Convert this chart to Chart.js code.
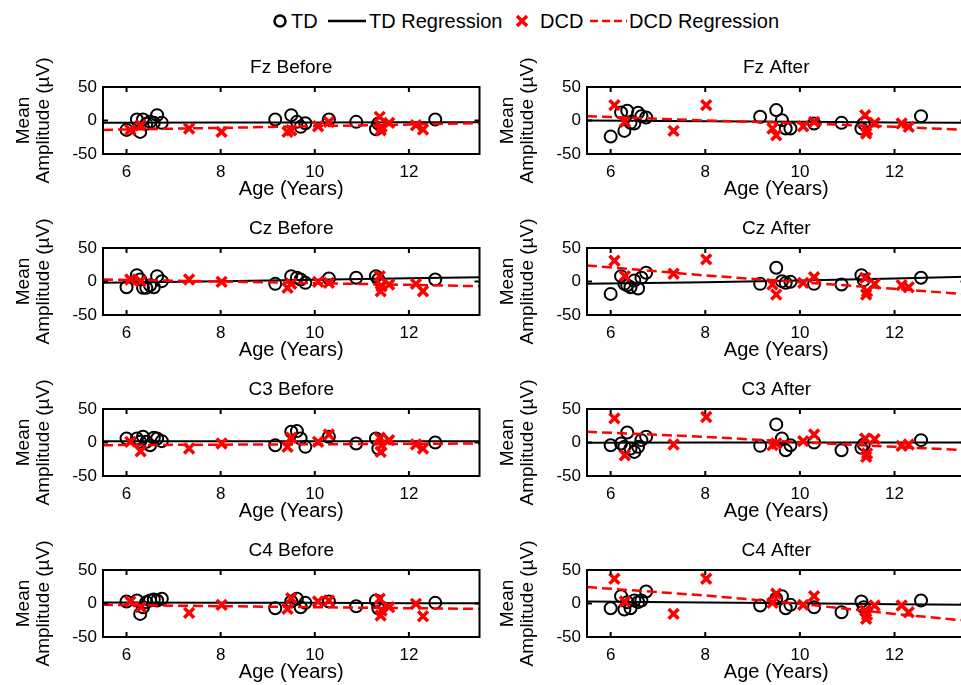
<!DOCTYPE html>
<html lang="en">
<head>
<meta charset="UTF-8">
<title>Mean Amplitude by Age - TD vs DCD</title>
<script src="https://cdn.jsdelivr.net/npm/chart.js@4"></script>
<style>
    body {
        margin: 0;
        background: #fff;
        width: 961px;
        height: 685px;
        overflow: hidden;
        position: relative;
        font-family: 'Liberation Sans', Arial, sans-serif;
    }
    canvas { position: absolute; }
    #legendIcons { position: absolute; left: 0; top: 0; }
    .lg {
        position: absolute;
        top: 9px;
        font-size: 20px;
        line-height: 24px;
        color: #000;
        white-space: nowrap;
    }
</style>
</head>
<body>
<svg id="legendIcons" width="961" height="42">
    <circle cx="280" cy="21" r="5.5" fill="none" stroke="#000" stroke-width="2.5"/>
    <line x1="328" y1="21" x2="366" y2="21" stroke="#000" stroke-width="2.5"/>
    <path d="M517 16 L527 26 M527 16 L517 26" stroke="#f00" stroke-width="3.5"/>
    <line x1="590" y1="21" x2="627" y2="21" stroke="#f00" stroke-width="2.5" stroke-dasharray="8 4"/>
</svg>
<span class="lg" style="left:291px">TD</span>
<span class="lg" style="left:369px">TD Regression</span>
<span class="lg" style="left:540px">DCD</span>
<span class="lg" style="left:629px">DCD Regression</span>

<script>
// ages of the subjects (years)
const tdAge  = [6.0, 6.22, 6.29, 6.35, 6.42, 6.5, 6.58, 6.65, 6.75, 9.16, 9.5, 9.62, 9.7, 9.8, 10.3, 10.88, 11.3, 11.35, 12.56];
const dcdAge = [6.08, 6.3, 7.33, 8.02, 9.42, 9.5, 10.07, 10.3, 11.38, 11.4, 11.42, 11.58, 12.15, 12.3];
// ages where the regression curves are sampled
const fitAge = [5.5, 8, 10, 12, 13.5];

const xTicks = [6, 8, 10, 12];
const yTicks = [-50, 0, 50];

// mean amplitude (uV) per electrode / session
const fzBeforeTD  = [-14, 1.5, -17, 1.5, -5, -2, -3.5, 8, -3.5, 1.5, 8, -2, -9.5, -4, 1.5, -2, -13, -4.5, 1.5];
const fzBeforeDCD = [-14, -7, -12, -17, -17, -14.5, -8.5, -2, 5.5, -14.5, -9.5, -3.5, -7, -13.5];
const fzAfterTD   = [-24, 12, -15.5, 14.5, -3.5, -4.5, 11.5, 6.5, 4.5, 5.5, 15.5, 0.5, -12, -12, -4.5, -3.5, -12, -4.5, 6.5];
const fzAfterDCD  = [23, -2, -15.5, 23, -12, -22, -8.5, -2, 8, -19.5, -14.5, -3.5, -4.5, -9.5];
const czBeforeTD  = [-8.5, 9.5, 3, -9.5, -9.5, -5.5, -8.5, 8, 0.5, -3.5, 8, 5.5, 3, -2, 4.5, 5.5, 8, 3, 3];
const czBeforeDCD = [3, 0.5, 3, -0.5, -9.5, -3.5, -0.5, -2, 8, -14.5, -7, -4.5, -3.5, -14.5];
const czAfterTD   = [-18.5, 8, -3.5, -5.5, -8.5, 1.5, -10.5, 5.5, 13, -3.5, 20.5, 0.5, -2, -0.5, -3.5, -4.5, 9.5, 2, 5.5];
const czAfterDCD  = [31, 8, 11.5, 33, -4.5, -19.5, -2, 6.5, 5.5, -19.5, -14.5, -3.5, -5.5, -8.5];
const c3BeforeTD  = [6, 6, 1, 8.5, 1, -4, 7, 6, 2, -4, 16, 17, 6, -6.5, 8.5, -1.5, 6, -9, 0];
const c3BeforeDCD = [1, -13, -9, -1.5, -6.5, 7, 1, 12, 7, -14, -4, 3.5, -3, -9];
const c3AfterTD   = [-4, -1.5, -6.5, 15, -9, -14, -6.5, 3.5, 8.5, -5, 27, 6, -11.5, -4, 0, -11.5, -8, -3, 3.5];
const c3AfterDCD  = [36, -19, -3, 38, -4, -1.5, 2, 12, 6, -21.5, -16.5, 5, -5, -3];
const c4BeforeTD  = [3, 4.5, -15.5, -5.5, 2, 4.5, 6, 4.5, 7, -7, 3, 7, -5.5, 1, 3, -4, 4.5, -7, 1];
const c4BeforeDCD = [3, -5.5, -14, -2, -8, 8, 3, 4.5, 7, -18, -10.5, -5.5, -0.5, -19];
const c4AfterTD   = [-7, 11, -9, 2, -7, 4.5, 2, 4.5, 18, -3, 7, 11, -7, -2, -5.5, -13, 3, -5.5, 4.5];
const c4AfterDCD  = [37, 3, -15.5, 37, 1, 14.5, -2, 11, -10.5, -23, -17, -3, -3, -13];

// regression curves sampled at fitAge
const fzBeforeTdFit  = [-3.5, -3, -3, -2.5, -2.5];
const fzBeforeDcdFit = [-14, -11, -8.5, -6, -4];
const fzAfterTdFit   = [0, -1, -2, -3, -3.5];
const fzAfterDcdFit  = [6.5, 0, -4, -9.5, -14];
const czBeforeTdFit  = [-2, 0.5, 2.5, 5, 6.5];
const czBeforeDcdFit = [3, 0, -2.5, -5, -7];
const czAfterTdFit   = [-3.5, -1, 1.5, 4.5, 7];
const czAfterDcdFit  = [24, 9, -1, -11, -19];
const c3BeforeTdFit  = [2, 2, 2, 2, 2];
const c3BeforeDcdFit = [-4, -3.2, -2.7, -2, -1.5];
const c3AfterTdFit   = [-0.5, 0, 0, 0, 0];
const c3AfterDcdFit  = [16, 8.5, 0.5, -6.5, -11.5];
const c4BeforeTdFit  = [1.5, 1, 1, 0.5, 0.5];
const c4BeforeDcdFit = [-2, -4, -5.5, -7, -8];
const c4AfterTdFit   = [3, 1.5, 0.5, -1, -2];
const c4AfterDcdFit  = [24.5, 12, -0.5, -15.5, -25.5];

const panels = [
    { title: 'Fz Before', td: fzBeforeTD, dcd: fzBeforeDCD, tdFit: fzBeforeTdFit, dcdFit: fzBeforeDcdFit },
    { title: 'Fz After',  td: fzAfterTD,  dcd: fzAfterDCD,  tdFit: fzAfterTdFit,  dcdFit: fzAfterDcdFit },
    { title: 'Cz Before', td: czBeforeTD, dcd: czBeforeDCD, tdFit: czBeforeTdFit, dcdFit: czBeforeDcdFit },
    { title: 'Cz After',  td: czAfterTD,  dcd: czAfterDCD,  tdFit: czAfterTdFit,  dcdFit: czAfterDcdFit },
    { title: 'C3 Before', td: c3BeforeTD, dcd: c3BeforeDCD, tdFit: c3BeforeTdFit, dcdFit: c3BeforeDcdFit },
    { title: 'C3 After',  td: c3AfterTD,  dcd: c3AfterDCD,  tdFit: c3AfterTdFit,  dcdFit: c3AfterDcdFit },
    { title: 'C4 Before', td: c4BeforeTD, dcd: c4BeforeDCD, tdFit: c4BeforeTdFit, dcdFit: c4BeforeDcdFit },
    { title: 'C4 After',  td: c4AfterTD,  dcd: c4AfterDCD,  tdFit: c4AfterTdFit,  dcdFit: c4AfterDcdFit }
];

Chart.defaults.font.family = "'Liberation Sans', Arial, sans-serif";
Chart.defaults.color = '#000';

// box around the plot with inward tick marks (matlab style)
const framePlugin = {
    id: 'frame',
    afterDraw(chart) {
        const { ctx, chartArea: a, scales: { x, y } } = chart;
        ctx.save();
        ctx.strokeStyle = '#000';
        ctx.lineWidth = 2;
        ctx.strokeRect(a.left, a.top, a.right - a.left, a.bottom - a.top);
        ctx.beginPath();
        xTicks.forEach(v => {
            const px = x.getPixelForValue(v);
            ctx.moveTo(px, a.bottom); ctx.lineTo(px, a.bottom - 5);
            ctx.moveTo(px, a.top); ctx.lineTo(px, a.top + 5);
        });
        yTicks.forEach(v => {
            const py = y.getPixelForValue(v);
            ctx.moveTo(a.left, py); ctx.lineTo(a.left + 5, py);
            ctx.moveTo(a.right, py); ctx.lineTo(a.right - 5, py);
        });
        ctx.stroke();
        ctx.restore();
    }
};

const toXY = (xs, ys) => xs.map((x, i) => ({ x: x, y: ys[i] }));

const rowTops = [87, 248, 409, 570];

panels.forEach((p, i) => {
    const col = i % 2;
    const row = Math.floor(i / 2);
    const cv = document.createElement('canvas');
    const w = col === 0 ? 490 : 492;
    cv.width = w;
    cv.height = 155;
    cv.style.left = (col === 0 ? 0 : 484) + 'px';
    cv.style.top = (rowTops[row] - 38) + 'px';
    document.body.appendChild(cv);

    new Chart(cv, {
        type: 'scatter',
        data: {
            datasets: [
                {
                    label: 'TD',
                    data: toXY(tdAge, p.td),
                    pointStyle: 'circle',
                    pointRadius: 6,
                    pointBorderWidth: 2,
                    pointBorderColor: '#000',
                    pointBackgroundColor: 'rgba(0,0,0,0)',
                    borderColor: '#000',
                    order: 4
                },
                {
                    label: 'TD Regression',
                    data: toXY(fitAge, p.tdFit),
                    showLine: true,
                    pointRadius: 0,
                    borderColor: '#000',
                    borderWidth: 2,
                    order: 3
                },
                {
                    label: 'DCD',
                    data: toXY(dcdAge, p.dcd),
                    pointStyle: 'crossRot',
                    pointRadius: 7,
                    pointBorderWidth: 3.5,
                    pointBorderColor: '#f00',
                    borderColor: '#f00',
                    order: 2
                },
                {
                    label: 'DCD Regression',
                    data: toXY(fitAge, p.dcdFit),
                    showLine: true,
                    pointRadius: 0,
                    borderColor: '#f00',
                    borderWidth: 2.5,
                    borderDash: [10, 5],
                    order: 1
                }
            ]
        },
        options: {
            responsive: false,
            animation: false,
            layout: { padding: { right: 9 } },
            plugins: {
                legend: { display: false },
                tooltip: { enabled: false },
                title: {
                    display: true,
                    fullSize: false,
                    text: p.title,
                    color: '#000',
                    font: { size: 19, weight: 'normal', lineHeight: 1 },
                    padding: { top: 9, bottom: 10 }
                }
            },
            scales: {
                x: {
                    type: 'linear',
                    min: 5.5,
                    max: 13.5,
                    grid: { display: false, drawTicks: false },
                    border: { display: false },
                    afterBuildTicks: s => { s.ticks = xTicks.map(v => ({ value: v })); },
                    afterFit: s => { s.height = 50; },
                    ticks: { color: '#000', font: { size: 17 }, padding: 8 },
                    title: {
                        display: true,
                        text: 'Age (Years)',
                        color: '#000',
                        font: { size: 20 },
                        padding: { top: 0, bottom: 3 }
                    }
                },
                y: {
                    min: -50,
                    max: 50,
                    grid: { display: false, drawTicks: false },
                    border: { display: false },
                    afterBuildTicks: s => { s.ticks = yTicks.map(v => ({ value: v })); },
                    afterFit: s => { s.width = 103; },
                    ticks: { color: '#000', font: { size: 17 }, padding: 6 },
                    title: {
                        display: true,
                        text: ['Mean', 'Amplitude (µV)'],
                        color: '#000',
                        font: { size: 19, lineHeight: 1.05 },
                        padding: { top: 14, bottom: 0 }
                    }
                }
            }
        },
        plugins: [framePlugin]
    });
});
</script>
</body>
</html>
